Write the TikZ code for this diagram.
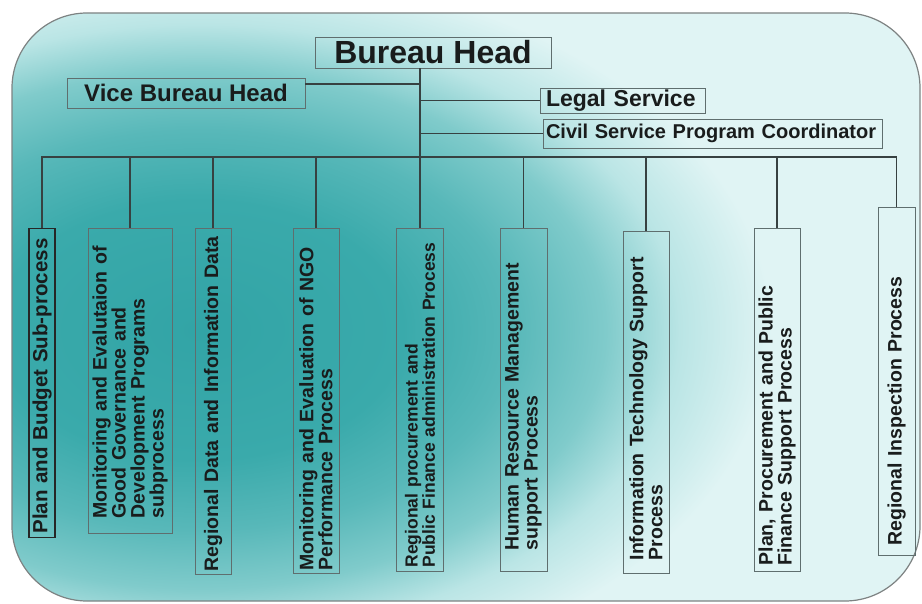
\documentclass[tikz,border=0pt]{standalone}
\usepackage{fontspec}
\setmainfont{Liberation Sans}
\usetikzlibrary{calc}
\usetikzlibrary{positioning}
\definecolor{deepteal}{RGB}{50,164,166}
\definecolor{tealA}{RGB}{58,170,171}
\definecolor{tealB}{RGB}{88,184,185}
\definecolor{midteal}{RGB}{128,203,203}
\definecolor{lightteal}{RGB}{186,229,229}
\definecolor{paleteal}{RGB}{224,244,244}
\definecolor{wiregray}{RGB}{55,65,65}
\definecolor{boxgray}{RGB}{95,110,110}
\definecolor{inkgray}{RGB}{25,28,28}
\definecolor{rimgray}{RGB}{125,130,130}
\pgfdeclareradialshading{wash}{\pgfpoint{0bp}{0bp}}{color(0bp)=(deepteal); color(5.5bp)=(tealA); color(8.5bp)=(tealB); color(11bp)=(midteal); color(13bp)=(lightteal); color(15.5bp)=(paleteal); color(40bp)=(paleteal)}

\begin{document}
\begin{tikzpicture}[x=1pt,y=-1pt,
	wire/.style={draw=wiregray,line width=1.3pt},
	post/.style={draw=boxgray,line width=0.8pt,text=inkgray,font=\bfseries,inner sep=1pt},
	unit/.style={post,rotate=90,anchor=east,align=left,font=\fontsize{19.5}{19}\selectfont\bfseries}]
		%frame of the chart
		\useasboundingbox (0,0) rectangle (922,604);
		\begin{scope}
			\clip[rounded corners=75pt] (12,13) rectangle (920,601);
			\shade[shading=wash] (-722,-258) rectangle (1122,918);
		\end{scope}
		\draw[rimgray,line width=1.2pt,rounded corners=75pt] (12,13) rectangle (920,601);
		%head and staff
		\node[post,minimum width=236pt,minimum height=31pt,font=\fontsize{32}{36}\selectfont\bfseries] (head) at (433,52.5) {Bureau Head};
		\node[post,minimum width=238pt,minimum height=30pt,font=\fontsize{24}{28}\selectfont\bfseries] (vice) at (186,93) {Vice Bureau Head};
		\node[post,text width=153pt,inner xsep=6pt,minimum height=25pt,align=left,font=\fontsize{23}{26}\selectfont\bfseries] (legal) at (622.5,100.5) {Legal Service};
		\node[post,text width=333pt,inner xsep=3pt,minimum height=29pt,align=left,font=\fontsize{20}{24}\selectfont\bfseries] (civil) at (712.5,133.5) {Civil Service Program Coordinator};
		%process boxes
		\node[unit,minimum height=26pt,inner xsep=4pt,text width=301pt,draw=black!85,line width=1.1pt,font=\fontsize{20.5}{19}\selectfont\bfseries] (b1) at (42,228) {Plan and Budget Sub-process};
		\node[unit,minimum height=84pt,inner xsep=15pt,text width=275pt] (b2) at (130,228) {Monitoring and Evalutaion of\\Good Governance and\\Development Programs\\subprocess};
		\node[unit,minimum height=36pt,inner xsep=3pt,text width=340pt] (b3) at (213,228) {Regional Data and Information Data};
		\node[unit,minimum height=46pt,inner xsep=3pt,text width=339pt] (b4) at (316,228) {Monitoring and Evaluation of NGO\\Performance Process};
		\node[unit,minimum height=47pt,inner xsep=4pt,text width=335pt,font=\fontsize{17.5}{15}\selectfont\bfseries] (b5) at (420,228) {Regional procurement and\\Public Finance administration Process};
		\node[unit,minimum height=47pt,inner xsep=21pt,text width=301pt] (b6) at (523.5,228) {Human Resource Management\\support Process};
		\node[unit,minimum height=46pt,inner xsep=13pt,text width=316pt] (b7) at (646,231) {Information Technology Support\\Process};
		\node[unit,minimum height=46pt,inner xsep=6pt,text width=331pt] (b8) at (777,228) {Plan, Procurement and Public\\Finance Support Process};
		\node[unit,minimum height=37pt,inner xsep=10pt,text width=328pt] (b9) at (896.5,207) {Regional Inspection Process};
		%lines between the boxes
		\coordinate (bus) at (0,157);
		\coordinate (spine) at (b5.east |- head.south);
		\draw[wire] (spine) -- (b5.east);
		\draw[wire] (b1.east) -- (b1.east |- bus) -- (b9.east |- bus) -- (b9.east);
		\foreach \b in {b2,b3,b4,b6,b7,b8}
			\draw[wire] (\b.east |- bus) -- (\b.east);
		\draw[wire] ([yshift=9pt]vice.east) -- ([yshift=9pt]vice.east -| spine);
		\draw[wire] (legal.west -| spine) -- (legal.west);
		\draw[wire] (civil.west -| spine) -- (civil.west);
	\end{tikzpicture}
\end{document}
